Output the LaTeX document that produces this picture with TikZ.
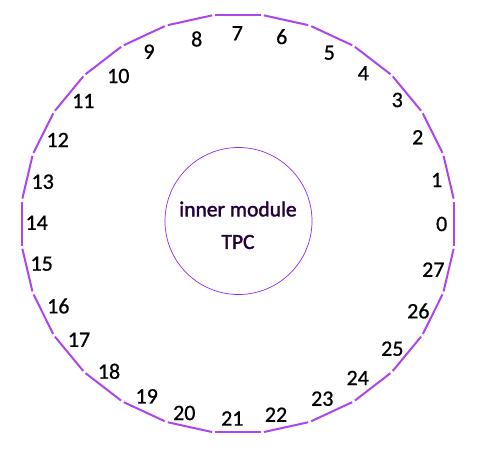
\documentclass[tikz,border=0pt]{standalone}
\usepackage{fontspec}
\setmainfont{Carlito}
\newfontfamily\digitfont[FakeBold=0.8]{Carlito}
\newfontfamily\centerfont[FakeBold=1.8]{Carlito}
\definecolor{edgecol}{RGB}{172,70,236}
\definecolor{ringcol}{RGB}{138,43,226}
\definecolor{txtcol}{RGB}{35,0,55}
\begin{document}
\begin{tikzpicture}[x=1pt,y=-1pt,
  sideline/.style={draw=edgecol, line width=2pt, shorten >=1.6pt, shorten <=1.6pt},
  lbl/.style={font=\digitfont\fontsize{22}{25}\selectfont, text=black, inner sep=0pt},
  ctext/.style={font=\centerfont\fontsize{21.5}{24}\selectfont, text=txtcol, inner sep=0pt},
  ring/.style={draw=ringcol, line width=0.7pt, circle, minimum size=147pt, inner sep=0pt}]
\useasboundingbox (0,0) rectangle (481,465);
\foreach \k in {0,...,27} {
  \coordinate (v\k) at ({238+217.4*cos((\k-0.5)*360/28)}, {223.7-210*sin((\k-0.5)*360/28)});
}
\foreach \k [evaluate=\k as \j using {int(mod(\k+1,28))}] in {0,...,27} {
  \draw[sideline] (v\k) -- (v\j);
}
\foreach \k/\px/\py in {
  0/441.7/224, 1/436.7/180, 2/417.7/137.3, 3/397.3/100, 4/363.3/73.3,
  5/329.3/52.7, 6/281.7/36.7, 7/237.3/33.3, 8/196.7/39, 9/149/51.7,
  10/118.3/76, 11/83.3/101, 12/57.7/140, 13/42.7/181.7, 14/36.7/222.7,
  15/41.7/263.7, 16/58.3/306, 17/79/339.7, 18/109/371.3, 19/146.7/396.3,
  20/184.3/413, 21/232.3/418.5, 22/276/414.7, 23/322.3/398.7, 24/357.7/378,
  25/392.3/348.7, 26/418.3/311, 27/433.3/269.7} {
  \node[lbl] (n\k) at (\px,\py) {\k};
}
\node[ring] (inner) at (238.5,221) {};
\node[ctext] (t1) at (238,209) {inner module};
\node[ctext] (t2) at (238,242) {TPC};
\end{tikzpicture}
\end{document}
